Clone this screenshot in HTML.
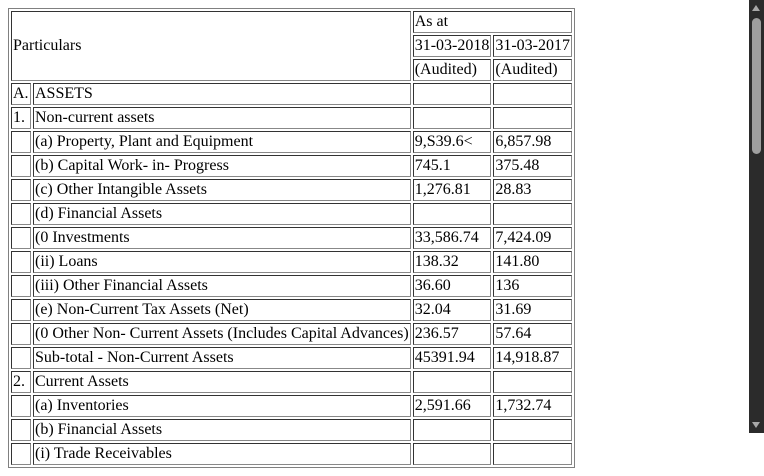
<!DOCTYPE html>
<html><head><meta charset="utf-8"><style>
html,body{margin:0;padding:0;overflow:hidden;background:#fff;}
body{margin:8px;font-family:"Liberation Serif",serif;font-size:16px;line-height:18px;color:#000;}
table{border-collapse:separate;border-spacing:2px;border:1px solid #808080;}
td{border:1px solid #808080;border-color:#333 #888 #888 #333;padding:1px;white-space:nowrap;height:18px;line-height:18px;}
.sb{position:fixed;top:0;right:0;width:15px;height:433px;background:#2b2b2b;}
.thumb{position:absolute;left:3px;top:18px;width:9px;height:136px;background:#9f9f9f;border-radius:5px;}
.up{position:absolute;left:3px;top:5px;width:0;height:0;border-left:4px solid transparent;border-right:4px solid transparent;border-bottom:6px solid #a8a8a8;}
.dn{position:absolute;left:3px;bottom:5px;width:0;height:0;border-left:4px solid transparent;border-right:4px solid transparent;border-top:6px solid #a8a8a8;}
</style></head><body>
<table>
<tr><td colspan="2" rowspan="3">Particulars</td><td colspan="2">As at</td></tr>
<tr><td style="width:74px">31-03-2018</td><td style="width:75px">31-03-2017</td></tr>
<tr><td>(Audited)</td><td>(Audited)</td></tr>
<tr><td style="width:16px">A.</td><td style="width:372px">ASSETS</td><td></td><td></td></tr>
<tr><td>1.</td><td>Non-current assets</td><td></td><td></td></tr>
<tr><td></td><td>(a) Property, Plant and Equipment</td><td>9,S39.6&lt;</td><td>6,857.98</td></tr>
<tr><td></td><td>(b) Capital Work- in- Progress</td><td>745.1</td><td>375.48</td></tr>
<tr><td></td><td>(c) Other Intangible Assets</td><td>1,276.81</td><td>28.83</td></tr>
<tr><td></td><td>(d) Financial Assets</td><td></td><td></td></tr>
<tr><td></td><td>(0 Investments</td><td>33,586.74</td><td>7,424.09</td></tr>
<tr><td></td><td>(ii) Loans</td><td>138.32</td><td>141.80</td></tr>
<tr><td></td><td>(iii) Other Financial Assets</td><td>36.60</td><td>136</td></tr>
<tr><td></td><td>(e) Non-Current Tax Assets (Net)</td><td>32.04</td><td>31.69</td></tr>
<tr><td></td><td>(0 Other Non- Current Assets (Includes Capital Advances)</td><td>236.57</td><td>57.64</td></tr>
<tr><td></td><td>Sub-total - Non-Current Assets</td><td>45391.94</td><td>14,918.87</td></tr>
<tr><td>2.</td><td>Current Assets</td><td></td><td></td></tr>
<tr><td></td><td>(a) Inventories</td><td>2,591.66</td><td>1,732.74</td></tr>
<tr><td></td><td>(b) Financial Assets</td><td></td><td></td></tr>
<tr><td></td><td>(i) Trade Receivables</td><td></td><td></td></tr>
</table>
<div class="sb"><div class="up"></div><div class="thumb"></div><div class="dn"></div></div>
</body></html>
